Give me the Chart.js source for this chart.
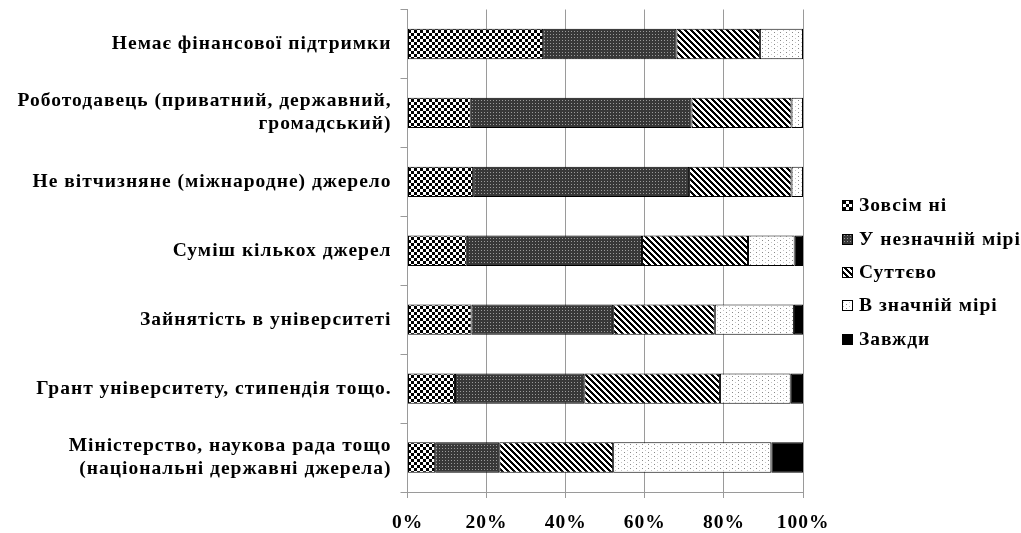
<!DOCTYPE html>
<html>
<head>
<meta charset="utf-8">
<script src="https://cdn.jsdelivr.net/npm/chart.js@4/dist/chart.umd.min.js"></script>
<style>
  html, body { margin: 0; padding: 0; background: #fff; }
  #wrap { width: 1021px; height: 533px; position: relative; }
</style>
</head>
<body>
<div id="wrap"><canvas id="chart"></canvas></div>
<script>
// --- дані ---
const categories = [
    'Немає фінансової підтримки',
    ['Роботодавець (приватний, державний,', 'громадський)'],
    'Не вітчизняне (міжнародне) джерело',
    'Суміш кількох джерел',
    'Зайнятість в університеті',
    'Грант університету, стипендія тощо.',
    ['Міністерство, наукова рада тощо', '(національні державні джерела)']
];
const seriesNames = ['Зовсім ні', 'У незначній мірі', 'Суттєво', 'В значній мірі', 'Завжди'];
const zovsimNi   = [34.3, 16.0, 16.6, 15.0, 16.2, 12.0, 7.0];
const neznachna  = [33.7, 55.8, 54.6, 44.3, 35.8, 32.7, 16.2];
const suttevo    = [21.1, 25.3, 25.9, 26.8, 25.7, 34.3, 28.8];
const znachna    = [10.9, 2.9, 2.9, 11.8, 20.0, 17.9, 40.0];
const zavzhdy    = [0, 0, 0, 2.1, 2.3, 3.1, 8.0];
const xTicks = [0, 20, 40, 60, 80, 100];

const FONT = "'Liberation Serif', 'DejaVu Serif', serif";
const FSIZE = 19.5;
const SPACING = '1px';

// --- візерунки (штрихування як в Excel) ---
function makePattern(w, h, draw) {
    const c = document.createElement('canvas');
    c.width = w; c.height = h;
    const g = c.getContext('2d');
    draw(g);
    return g.createPattern(c, 'repeat');
}
const ctx0 = document.getElementById('chart').getContext('2d');

const patChecker = makePattern(6, 6, g => {
    g.fillStyle = '#fff'; g.fillRect(0, 0, 6, 6);
    g.fillStyle = '#000'; g.fillRect(0, 0, 3, 3); g.fillRect(3, 3, 3, 3);
});
const patDark = makePattern(3, 3, g => {
    g.fillStyle = '#383838'; g.fillRect(0, 0, 3, 3);
    g.fillStyle = '#9a9a9a'; g.fillRect(1, 1, 1, 1);
});
const patStripe = makePattern(6, 6, g => {
    g.fillStyle = '#fff'; g.fillRect(0, 0, 6, 6);
    g.fillStyle = '#000';
    for (let i = 0; i < 6; i++) {
        g.fillRect(i, i, 1, 1);
        g.fillRect((i + 1) % 6, i, 1, 1);
        g.fillRect((i + 2) % 6, i, 1, 1);
    }
});
const patDots = makePattern(6, 4, g => {
    g.fillStyle = '#fff'; g.fillRect(0, 0, 6, 4);
    g.fillStyle = '#8a8a8a'; g.fillRect(0, 0, 1, 1);
    g.fillStyle = '#c4c4c4'; g.fillRect(3, 2, 1, 1);
});
const fills = [patChecker, patDark, patStripe, patDots, '#000'];

// трохи розрідженого тексту, як у Word
const spacingPlugin = {
    id: 'spacing',
    beforeInit(chart) { chart.ctx.letterSpacing = SPACING; },
    beforeUpdate(chart) { chart.ctx.letterSpacing = SPACING; },
    beforeDraw(chart) { chart.ctx.letterSpacing = SPACING; }
};

// --- легенда праворуч (малюємо самі) ---
const sideLegend = {
    id: 'sideLegend',
    afterDraw(chart) {
        const c = chart.ctx;
        const x0 = 842, ys = [205, 239, 272, 305, 339];
        c.save();
        c.letterSpacing = SPACING;
        c.font = 'bold ' + FSIZE + 'px ' + FONT;
        c.textBaseline = 'middle';
        c.textAlign = 'left';
        seriesNames.forEach((name, i) => {
            c.fillStyle = fills[i];
            c.fillRect(x0, ys[i] - 5, 11, 11);
            c.strokeStyle = '#000';
            c.lineWidth = 1;
            c.strokeRect(x0 + 0.5, ys[i] - 4.5, 10, 10);
            c.fillStyle = '#000';
            c.fillText(name, x0 + 17, ys[i] + 1);
        });
        c.restore();
    }
};

const dataSets = [zovsimNi, neznachna, suttevo, znachna, zavzhdy].map((d, i) => ({
    label: seriesNames[i],
    data: d,
    backgroundColor: fills[i],
    borderColor: '#000',
    borderWidth: 1,
    borderSkipped: false,
    barPercentage: 0.44,
    categoryPercentage: 1.0
}));

new Chart(ctx0, {
    type: 'bar',
    data: { labels: categories, datasets: dataSets },
    options: {
        indexAxis: 'y',
        responsive: true,
        maintainAspectRatio: false,
        animation: false,
        layout: { padding: { top: 9.5, right: 218, left: 0, bottom: 0 } },
        scales: {
            x: {
                stacked: true,
                min: 0, max: 100,
                afterBuildTicks(scale) { scale.ticks = xTicks.map(v => ({ value: v })); },
                afterFit(scale) { scale.height = 41; scale.paddingLeft = 0; scale.paddingRight = 0; },
                grid: { color: '#9a9a9a', lineWidth: 1, tickLength: 6, drawOnChartArea: true },
                border: { color: '#9a9a9a' },
                ticks: {
                    color: '#000',
                    padding: 13,
                    font: { family: FONT, size: FSIZE, weight: 'bold' },
                    callback: v => v + '%'
                }
            },
            y: {
                stacked: true,
                afterFit(scale) { scale.width = 407.5; scale.paddingTop = 0; scale.paddingBottom = 0; },
                grid: { display: true, drawOnChartArea: false, color: '#9a9a9a', tickLength: 7, offset: true },
                border: { color: '#9a9a9a' },
                ticks: {
                    color: '#000',
                    padding: 9,
                    font: { family: FONT, size: FSIZE, weight: 'bold', lineHeight: 1.18 }
                }
            }
        },
        plugins: {
            legend: { display: false },
            tooltip: { enabled: false }
        }
    },
    plugins: [spacingPlugin, sideLegend]
});
</script>
</body>
</html>
